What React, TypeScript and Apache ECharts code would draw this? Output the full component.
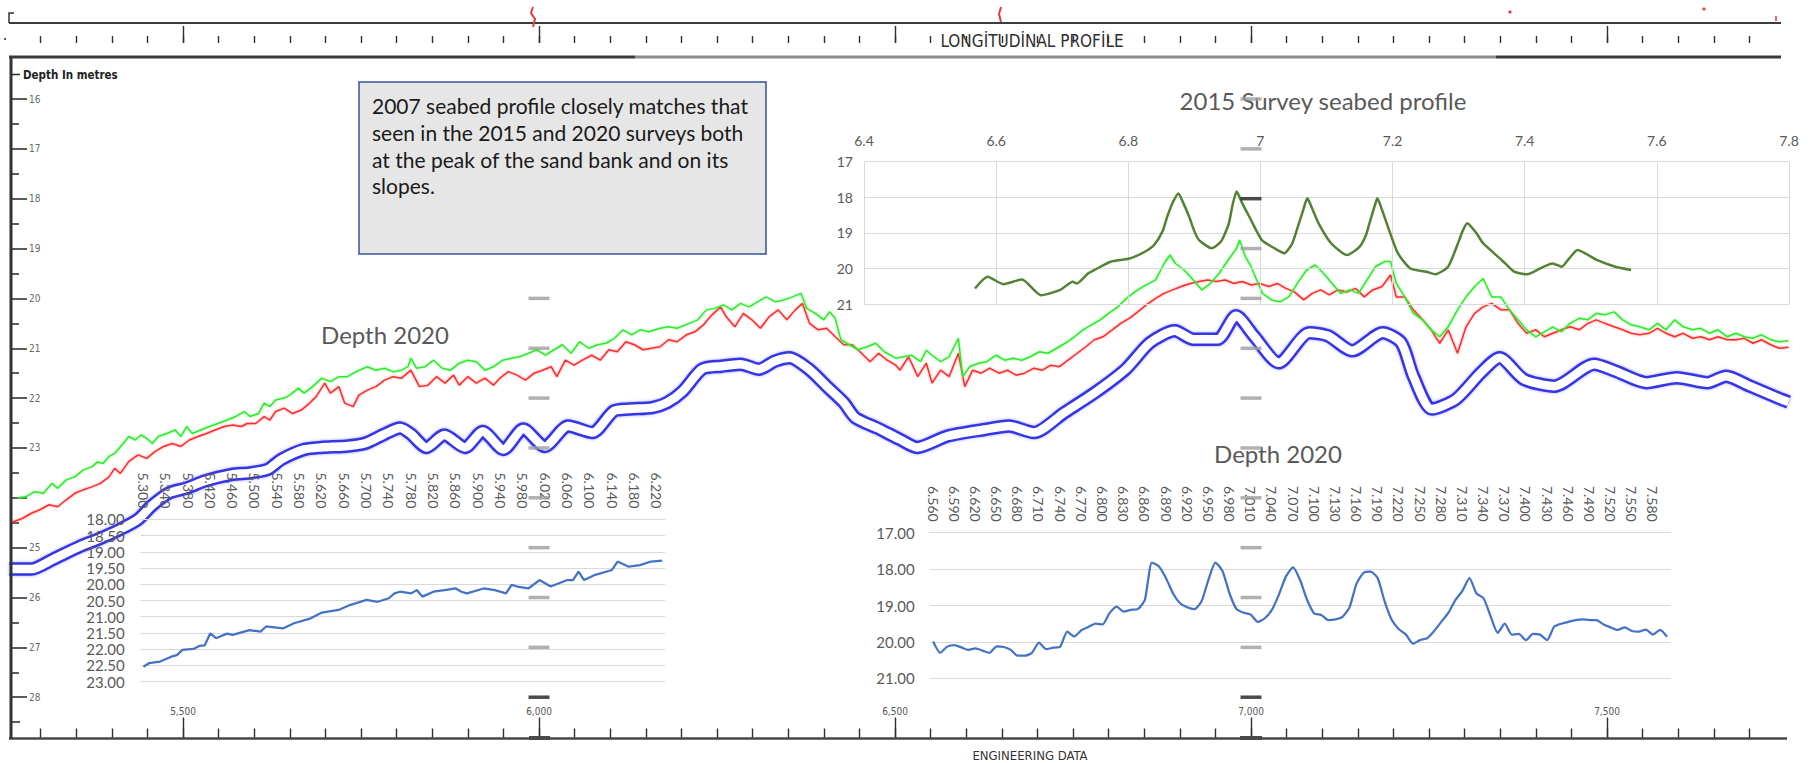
import { useEffect, useRef } from 'react';
import * as echarts from 'echarts';

// ---- Longitudinal profile (chainage in metres, depth in metres) ----
const profileGreen: [number, number][] = [
  [5268, 24.0], [5279, 23.98], [5291, 23.88], [5304, 23.91], [5316, 23.71], [5324, 23.81], [5336, 23.64], [5348, 23.58],
  [5360, 23.44], [5372, 23.38], [5380, 23.28], [5388, 23.31], [5396, 23.17], [5404, 23.11], [5416, 22.91], [5424, 22.77],
  [5433, 22.84], [5441, 22.74], [5449, 22.81], [5457, 22.91], [5465, 22.77], [5477, 22.71], [5489, 22.64], [5497, 22.77],
  [5505, 22.57], [5513, 22.71], [5525, 22.64], [5537, 22.57], [5549, 22.51], [5562, 22.44], [5574, 22.37], [5586, 22.27],
  [5594, 22.37], [5606, 22.31], [5614, 22.1], [5622, 22.17], [5630, 22.04], [5642, 22.0], [5650, 21.94], [5662, 21.8],
  [5670, 21.9], [5682, 21.77], [5695, 21.6], [5707, 21.67], [5719, 21.57], [5731, 21.57], [5743, 21.47], [5759, 21.37],
  [5771, 21.44], [5783, 21.4], [5795, 21.47], [5807, 21.44], [5816, 21.37], [5820, 21.2], [5828, 21.4], [5840, 21.37],
  [5852, 21.24], [5864, 21.4], [5876, 21.44], [5888, 21.3], [5900, 21.24], [5912, 21.27], [5924, 21.44], [5936, 21.37],
  [5949, 21.24], [5961, 21.2], [5973, 21.17], [5985, 21.1], [5997, 21.03], [6009, 21.14], [6021, 21.03], [6033, 20.93],
  [6045, 21.1], [6057, 20.87], [6070, 21.0], [6082, 20.93], [6094, 20.9], [6106, 20.8], [6118, 20.63], [6130, 20.73],
  [6142, 20.63], [6154, 20.67], [6170, 20.6], [6182, 20.57], [6194, 20.6], [6211, 20.5], [6223, 20.43], [6235, 20.23],
  [6247, 20.2], [6259, 20.13], [6271, 20.23], [6283, 20.1], [6295, 20.17], [6307, 20.07], [6319, 19.97], [6332, 20.07],
  [6344, 20.03], [6356, 19.97], [6368, 19.9], [6376, 20.2], [6388, 20.3], [6400, 20.43], [6408, 20.27], [6416, 20.4],
  [6424, 20.83], [6436, 20.93], [6448, 21.03], [6461, 20.97], [6473, 20.9], [6485, 21.07], [6501, 21.2], [6523, 21.14],
  [6536, 21.27], [6544, 21.04], [6552, 21.14], [6564, 21.27], [6576, 21.17], [6589, 20.8], [6595, 21.57], [6605, 21.37],
  [6617, 21.3], [6629, 21.27], [6642, 21.14], [6654, 21.24], [6666, 21.2], [6678, 21.24], [6690, 21.17], [6703, 21.07],
  [6715, 21.1], [6727, 21.0], [6739, 20.9], [6752, 20.77], [6764, 20.63], [6776, 20.53], [6788, 20.43], [6800, 20.3],
  [6813, 20.17], [6825, 20.0], [6837, 19.87], [6849, 19.76], [6866, 19.63], [6878, 19.3], [6886, 19.13], [6894, 19.3],
  [6906, 19.43], [6919, 19.63], [6931, 19.83], [6943, 19.7], [6955, 19.5], [6968, 19.23], [6980, 18.99], [6984, 18.83],
  [6992, 19.16], [7000, 19.36], [7008, 19.63], [7016, 19.9], [7029, 20.03], [7041, 20.07], [7053, 19.97], [7065, 19.7],
  [7078, 19.43], [7090, 19.33], [7102, 19.5], [7114, 19.7], [7126, 19.9], [7139, 19.83], [7151, 19.9], [7163, 19.63],
  [7175, 19.36], [7188, 19.26], [7196, 19.26], [7204, 19.7], [7216, 19.97], [7228, 20.3], [7241, 20.43], [7253, 20.63],
  [7265, 20.77], [7277, 20.57], [7290, 20.23], [7302, 19.97], [7314, 19.76], [7326, 19.6], [7338, 19.97], [7351, 19.97],
  [7363, 20.23], [7375, 20.43], [7387, 20.63], [7400, 20.77], [7412, 20.67], [7424, 20.57], [7436, 20.67], [7448, 20.5],
  [7461, 20.4], [7473, 20.43], [7485, 20.3], [7497, 20.33], [7510, 20.27], [7522, 20.43], [7534, 20.53], [7546, 20.57],
  [7559, 20.63], [7571, 20.5], [7583, 20.63], [7595, 20.43], [7607, 20.57], [7620, 20.63], [7632, 20.6], [7644, 20.7],
  [7656, 20.63], [7669, 20.77], [7681, 20.7], [7693, 20.77], [7705, 20.8], [7717, 20.73], [7730, 20.83], [7742, 20.87],
  [7755, 20.85],
];

const profileRed: [number, number][] = [
  [5258, 24.5], [5275, 24.41], [5287, 24.31], [5299, 24.24], [5312, 24.14], [5324, 24.18], [5336, 24.04], [5348, 23.91],
  [5360, 23.84], [5372, 23.78], [5384, 23.71], [5396, 23.58], [5404, 23.41], [5412, 23.51], [5424, 23.27], [5437, 23.14],
  [5449, 23.21], [5461, 23.07], [5473, 22.97], [5485, 22.91], [5497, 22.97], [5509, 22.84], [5521, 22.77], [5533, 22.71],
  [5545, 22.64], [5558, 22.57], [5570, 22.54], [5582, 22.57], [5590, 22.51], [5602, 22.51], [5614, 22.37], [5622, 22.44],
  [5630, 22.27], [5642, 22.2], [5654, 22.31], [5666, 22.24], [5678, 22.1], [5687, 21.97], [5699, 21.7], [5707, 21.9],
  [5719, 21.77], [5727, 22.1], [5739, 22.17], [5747, 21.94], [5759, 21.84], [5771, 21.77], [5783, 21.64], [5795, 21.57],
  [5807, 21.6], [5820, 21.44], [5832, 21.77], [5844, 21.74], [5856, 21.57], [5868, 21.7], [5880, 21.54], [5888, 21.74],
  [5900, 21.57], [5912, 21.7], [5924, 21.6], [5936, 21.74], [5945, 21.6], [5957, 21.47], [5969, 21.54], [5981, 21.64],
  [5993, 21.5], [6005, 21.44], [6017, 21.37], [6025, 21.57], [6037, 21.24], [6049, 21.34], [6061, 21.24], [6074, 21.14],
  [6086, 21.24], [6098, 21.03], [6110, 21.07], [6122, 20.87], [6134, 20.93], [6146, 21.03], [6158, 21.0], [6170, 20.97],
  [6182, 20.83], [6194, 20.87], [6207, 20.73], [6219, 20.67], [6231, 20.53], [6243, 20.33], [6255, 20.17], [6263, 20.37],
  [6275, 20.57], [6287, 20.3], [6299, 20.43], [6311, 20.6], [6323, 20.37], [6336, 20.23], [6348, 20.43], [6360, 20.23],
  [6370, 20.1], [6380, 20.5], [6392, 20.63], [6404, 20.6], [6416, 20.77], [6428, 20.93], [6440, 20.93], [6453, 21.1],
  [6465, 21.27], [6477, 21.1], [6489, 21.24], [6501, 21.34], [6507, 21.44], [6519, 21.17], [6532, 21.57], [6544, 21.3],
  [6552, 21.7], [6564, 21.44], [6576, 21.57], [6589, 21.1], [6598, 21.77], [6609, 21.44], [6621, 21.5], [6633, 21.4],
  [6646, 21.5], [6658, 21.44], [6670, 21.54], [6682, 21.5], [6695, 21.4], [6707, 21.44], [6719, 21.34], [6731, 21.37],
  [6743, 21.24], [6756, 21.1], [6768, 20.97], [6780, 20.83], [6792, 20.77], [6805, 20.63], [6817, 20.5], [6829, 20.4],
  [6841, 20.27], [6853, 20.13], [6866, 20.0], [6878, 19.9], [6890, 19.83], [6902, 19.76], [6915, 19.7], [6927, 19.66],
  [6939, 19.63], [6951, 19.66], [6964, 19.63], [6976, 19.7], [6988, 19.66], [7000, 19.73], [7012, 19.7], [7025, 19.76],
  [7037, 19.7], [7049, 19.8], [7061, 19.87], [7074, 20.03], [7086, 19.9], [7098, 19.83], [7110, 19.93], [7122, 19.83],
  [7135, 19.87], [7147, 19.8], [7159, 19.97], [7171, 19.83], [7184, 19.76], [7196, 19.53], [7204, 19.97], [7216, 19.97],
  [7228, 20.23], [7241, 20.43], [7253, 20.63], [7265, 20.9], [7277, 20.63], [7290, 21.1], [7302, 20.57], [7314, 20.3],
  [7326, 20.17], [7338, 20.1], [7351, 20.23], [7363, 20.23], [7375, 20.5], [7387, 20.7], [7400, 20.63], [7412, 20.77],
  [7424, 20.7], [7436, 20.63], [7448, 20.57], [7461, 20.63], [7473, 20.5], [7485, 20.43], [7497, 20.5], [7510, 20.57],
  [7522, 20.63], [7534, 20.7], [7546, 20.73], [7559, 20.7], [7571, 20.6], [7583, 20.7], [7595, 20.77], [7607, 20.7],
  [7620, 20.8], [7632, 20.77], [7644, 20.83], [7656, 20.77], [7669, 20.83], [7681, 20.83], [7693, 20.8], [7705, 20.9],
  [7717, 20.83], [7730, 20.93], [7742, 21.0], [7755, 20.98],
];

// centreline of the blue double-line profile
const profileBlue: [number, number][] = [
  [5256, 25.43], [5287, 25.43], [5318, 25.23], [5356, 24.97], [5381, 24.83], [5412, 24.63], [5437, 24.43], [5456, 24.16],
  [5481, 23.9], [5506, 23.8], [5531, 23.66], [5569, 23.53], [5594, 23.5], [5619, 23.43], [5638, 23.23], [5670, 23.03],
  [5694, 22.99], [5732, 22.96], [5757, 22.9], [5782, 22.73], [5805, 22.6], [5820, 22.72], [5842, 22.99], [5867, 22.74],
  [5896, 22.99], [5921, 22.67], [5950, 23.03], [5978, 22.62], [6008, 22.97], [6041, 22.56], [6075, 22.69], [6105, 22.26],
  [6127, 22.22], [6159, 22.19], [6180, 22.09], [6202, 21.86], [6229, 21.42], [6256, 21.36], [6283, 21.32], [6309, 21.42],
  [6331, 21.26], [6352, 21.19], [6379, 21.42], [6406, 21.79], [6428, 22.09], [6444, 22.39], [6475, 22.6], [6507, 22.83],
  [6531, 22.99], [6574, 22.76], [6626, 22.63], [6660, 22.56], [6695, 22.69], [6738, 22.29], [6781, 21.89], [6824, 21.42],
  [6858, 20.89], [6893, 20.65], [6919, 20.82], [6953, 20.82], [6979, 20.35], [7004, 20.75], [7039, 21.29], [7082, 20.69],
  [7108, 20.75], [7142, 21.05], [7185, 20.69], [7211, 20.89], [7228, 21.56], [7254, 22.22], [7288, 22.02], [7323, 21.49],
  [7349, 21.19], [7383, 21.62], [7426, 21.76], [7482, 21.32], [7512, 21.46], [7555, 21.69], [7598, 21.59], [7641, 21.69],
  [7667, 21.56], [7701, 21.76], [7744, 22.02], [7755, 22.08],
];

// centre marks printed on the profile at 6,000 and 7,000
const centreMarkChainages = [6000, 7000];
const centreMarkDepths = [16, 17, 18, 19, 20, 21, 22, 23, 24, 25, 26, 27, 28];
const darkCentreMarks = ['6000-28', '7000-18', '7000-28'];

// chainage ruler: minor ticks every 50 m, major ticks every 500 m
const rulerMinorRange = [5300, 7700];
const rulerMajorRange = [5500, 7500];

// ---- Depth 2020 (west section, km) ----
const westCategories = Array.from({ length: 94 }, (_, i) => ((5300 + i * 10) / 1000).toFixed(3));
const depth2020West: [string, number][] = [
  ['5.300', 22.54], ['5.310', 22.43], ['5.330', 22.38], ['5.350', 22.23], ['5.360', 22.18], ['5.370', 22.02],
  ['5.390', 21.99], ['5.400', 21.9], ['5.410', 21.88], ['5.420', 21.51], ['5.430', 21.66], ['5.450', 21.52],
  ['5.460', 21.56], ['5.490', 21.41], ['5.510', 21.46], ['5.520', 21.3], ['5.550', 21.36], ['5.570', 21.2],
  ['5.600', 21.05], ['5.620', 20.87], ['5.650', 20.79], ['5.670', 20.64], ['5.680', 20.59], ['5.700', 20.48],
  ['5.720', 20.54], ['5.740', 20.43], ['5.750', 20.28], ['5.760', 20.23], ['5.780', 20.28], ['5.790', 20.18],
  ['5.800', 20.38], ['5.820', 20.23], ['5.840', 20.18], ['5.860', 20.13], ['5.870', 20.23], ['5.880', 20.28],
  ['5.910', 20.13], ['5.930', 20.18], ['5.950', 20.28], ['5.960', 20.02], ['5.970', 20.07], ['5.990', 20.13],
  ['6.010', 19.87], ['6.030', 20.07], ['6.060', 19.87], ['6.070', 19.87], ['6.080', 19.61], ['6.090', 19.87],
  ['6.110', 19.71], ['6.140', 19.56], ['6.150', 19.3], ['6.170', 19.46], ['6.190', 19.41], ['6.210', 19.3],
  ['6.230', 19.27],
];
const westDepthRange = [18, 23];

// ---- Depth 2020 (east section, km) ----
const eastCategories = Array.from({ length: 105 }, (_, i) => ((6560 + i * 10) / 1000).toFixed(3));
const depth2020East: [string, number][] = [
  ['6.560', 19.99], ['6.570', 20.3], ['6.580', 20.13], ['6.590', 20.09], ['6.600', 20.15], ['6.610', 20.22],
  ['6.620', 20.18], ['6.630', 20.24], ['6.640', 20.3], ['6.650', 20.12], ['6.660', 20.14], ['6.670', 20.22],
  ['6.680', 20.38], ['6.690', 20.38], ['6.700', 20.3], ['6.710', 20.02], ['6.720', 20.2], ['6.730', 20.16],
  ['6.740', 20.13], ['6.750', 19.72], ['6.760', 19.85], ['6.770', 19.68], ['6.780', 19.59], ['6.790', 19.5],
  ['6.800', 19.52], ['6.810', 19.21], ['6.820', 19.03], ['6.830', 19.17], ['6.840', 19.12], ['6.850', 19.1],
  ['6.860', 18.85], ['6.870', 17.82], ['6.880', 17.93], ['6.890', 18.25], ['6.900', 18.67], ['6.910', 18.94],
  ['6.920', 19.05], ['6.930', 19.1], ['6.940', 18.9], ['6.950', 18.3], ['6.960', 17.82], ['6.970', 18.05],
  ['6.980', 18.67], ['6.990', 19.1], ['7.000', 19.2], ['7.010', 19.25], ['7.020', 19.45], ['7.030', 19.35],
  ['7.040', 19.12], ['7.050', 18.7], ['7.060', 18.2], ['7.070', 17.95], ['7.080', 18.3], ['7.090', 18.85],
  ['7.100', 19.22], ['7.110', 19.26], ['7.120', 19.4], ['7.130', 19.38], ['7.140', 19.31], ['7.150', 19.05],
  ['7.160', 18.4], ['7.170', 18.1], ['7.180', 18.07], ['7.190', 18.25], ['7.200', 18.9], ['7.210', 19.4],
  ['7.220', 19.65], ['7.230', 19.8], ['7.240', 20.05], ['7.250', 19.95], ['7.260', 19.9], ['7.270', 19.7],
  ['7.280', 19.45], ['7.290', 19.2], ['7.300', 18.85], ['7.310', 18.6], ['7.320', 18.25], ['7.330', 18.67],
  ['7.340', 18.8], ['7.350', 19.3], ['7.360', 19.75], ['7.370', 19.5], ['7.380', 19.8], ['7.390', 19.78],
  ['7.400', 19.95], ['7.410', 19.78], ['7.420', 19.8], ['7.430', 19.95], ['7.440', 19.58], ['7.450', 19.5],
  ['7.460', 19.45], ['7.470', 19.4], ['7.480', 19.38], ['7.490', 19.4], ['7.500', 19.4], ['7.510', 19.52],
  ['7.520', 19.6], ['7.530', 19.67], ['7.540', 19.6], ['7.550', 19.7], ['7.560', 19.72], ['7.570', 19.66],
  ['7.580', 19.8], ['7.590', 19.67], ['7.600', 19.86],
];

// ---- 2015 survey seabed profile (km, depth) ----
const survey2015: [number, number][] = [
  [6.568, 20.56], [6.587, 20.23], [6.611, 20.44], [6.639, 20.31], [6.668, 20.75], [6.697, 20.6], [6.716, 20.37],
  [6.722, 20.42], [6.739, 20.14], [6.749, 20.04], [6.773, 19.81], [6.802, 19.72], [6.825, 19.53], [6.839, 19.34],
  [6.852, 18.95], [6.859, 18.54], [6.868, 18.12], [6.876, 17.89], [6.883, 18.15], [6.892, 18.54], [6.9, 18.95],
  [6.907, 19.2], [6.926, 19.43], [6.94, 19.25], [6.952, 18.75], [6.958, 18.2], [6.964, 17.84], [6.972, 18.15],
  [6.983, 18.54], [7.002, 19.2], [7.021, 19.43], [7.036, 19.57], [7.048, 19.3], [7.055, 18.92], [7.064, 18.4],
  [7.071, 18.03], [7.078, 18.3], [7.088, 18.73], [7.107, 19.29], [7.131, 19.62], [7.15, 19.39], [7.16, 19.05],
  [7.165, 18.73], [7.172, 18.3], [7.177, 18.03], [7.184, 18.35], [7.193, 18.83], [7.208, 19.57], [7.227, 20.0],
  [7.251, 20.09], [7.265, 20.16], [7.284, 19.95], [7.298, 19.34], [7.306, 18.95], [7.313, 18.73], [7.327, 19.01],
  [7.337, 19.29], [7.365, 19.76], [7.384, 20.09], [7.404, 20.16], [7.423, 20.0], [7.442, 19.86], [7.456, 19.95],
  [7.468, 19.7], [7.48, 19.48], [7.509, 19.76], [7.537, 19.95], [7.561, 20.04],
];

const NARROW = "'Liberation Sans Narrow', 'DejaVu Sans Condensed', 'Liberation Sans', sans-serif";
const EXCEL = "Lato, 'Open Sans', sans-serif";
const GRID_GREY = '#d9d9d9';
const LABEL_GREY = '#595959';

// pixel scale of the printed profile: 0.712 px per metre of chainage, 6,500 at x = 895
const PX_PER_M = 0.712;
const chainageX = (ch: number) => 895 + (ch - 6500) * PX_PER_M;

function text(x: number, y: number, str: string, size: number, family: string, fill: string, opts: any = {}) {
  const align = opts.align ?? 'left';
  const vAlign = opts.vAlign ?? 'middle';
  return {
    type: 'text',
    x,
    y,
    z: opts.z ?? 60,
    style: {
      text: str,
      fontSize: size,
      fontFamily: family,
      fontWeight: opts.weight ?? 'normal',
      fill,
      align,
      textAlign: align,
      verticalAlign: vAlign,
      textVerticalAlign: vAlign,
      lineHeight: opts.lineHeight,
    },
  };
}

function seg(x1: number, y1: number, x2: number, y2: number, stroke: string, lineWidth: number, z = 55) {
  return { type: 'line', z, shape: { x1, y1, x2, y2 }, style: { stroke, lineWidth } };
}

function rulerGrid(range: number[], top: number, height: number) {
  return { left: chainageX(range[0]), width: (range[1] - range[0]) * PX_PER_M, top, height };
}

function rulerAxis(gridIndex: number, position: 'top' | 'bottom', range: number[], interval: number, length: number, labels = false) {
  return {
    gridIndex,
    type: 'value',
    min: range[0],
    max: range[1],
    interval,
    position,
    axisLine: { show: false },
    axisTick: { show: true, inside: position === 'bottom', length, lineStyle: { color: '#2e2e2e', width: 1.4 } },
    axisLabel: labels
      ? {
          show: true,
          inside: true,
          margin: 22,
          fontFamily: NARROW,
          fontSize: 10,
          color: '#555',
          formatter: (v: number) => v.toLocaleString('en-US'),
        }
      : { show: false },
    splitLine: { show: false },
  };
}

function hiddenY(gridIndex: number) {
  return { gridIndex, type: 'value', min: 0, max: 1, show: false };
}

function buildOption(): any {
  const markData: any[] = [];
  centreMarkChainages.forEach((ch) =>
    centreMarkDepths.forEach((d) => {
      const dark = darkCentreMarks.includes(`${ch}-${d}`);
      markData.push({ value: [ch, d], itemStyle: { color: dark ? '#1e1e1e' : '#9e9e9e' } });
    })
  );

  const insetLabel = { color: LABEL_GREY, fontFamily: EXCEL };

  return {
    animation: false,
    backgroundColor: '#ffffff',
    grid: [
      { left: 11, top: 99, width: 1778, height: 598.2 },
      rulerGrid(rulerMinorRange, 23, 20),
      rulerGrid(rulerMajorRange, 23, 20),
      rulerGrid(rulerMinorRange, 700, 38.5),
      rulerGrid(rulerMajorRange, 700, 38.5),
      { left: 140.6, top: 519.3, width: 524.4, height: 162.4 },
      { left: 929.6, top: 532.7, width: 741, height: 145.6 },
      { left: 864, top: 161.7, width: 925, height: 142.4 },
    ],
    xAxis: [
      { gridIndex: 0, type: 'value', min: 5258.4, max: 7755.6, show: false },
      rulerAxis(1, 'top', rulerMinorRange, 50, 7),
      rulerAxis(2, 'top', rulerMajorRange, 500, 17),
      rulerAxis(3, 'bottom', rulerMinorRange, 50, 10),
      rulerAxis(4, 'bottom', rulerMajorRange, 500, 21, true),
      {
        gridIndex: 5,
        type: 'category',
        data: westCategories,
        position: 'top',
        boundaryGap: true,
        z: 5,
        axisLine: { show: true, lineStyle: { color: GRID_GREY } },
        axisTick: { show: false },
        axisLabel: { ...insetLabel, interval: 3, rotate: 90, margin: 11, fontSize: 14 },
      },
      {
        gridIndex: 6,
        type: 'category',
        data: eastCategories,
        position: 'top',
        boundaryGap: true,
        z: 5,
        axisLine: { show: true, lineStyle: { color: GRID_GREY } },
        axisTick: { show: false },
        axisLabel: { ...insetLabel, interval: 2, rotate: 90, margin: 11, fontSize: 14 },
      },
      {
        gridIndex: 7,
        type: 'value',
        min: 6.4,
        max: 7.8,
        interval: 0.2,
        position: 'top',
        z: 5,
        axisLine: { show: false },
        axisTick: { show: false },
        axisLabel: { ...insetLabel, margin: 14, fontSize: 14 },
        splitLine: { show: true, lineStyle: { color: GRID_GREY } },
      },
    ],
    yAxis: [
      {
        gridIndex: 0,
        type: 'value',
        inverse: true,
        min: 16,
        max: 28,
        interval: 1,
        axisLine: { show: false },
        axisTick: { show: true, inside: true, length: 16, lineStyle: { color: '#333', width: 1.6 } },
        minorTick: { show: true, splitNumber: 2, length: 8, lineStyle: { color: '#333', width: 1.6 } },
        axisLabel: {
          inside: true,
          margin: 18,
          fontSize: 10,
          fontFamily: NARROW,
          color: '#6a6a6a',
          formatter: (v: number) => (v === 24 ? '' : String(v)),
        },
        splitLine: { show: false },
      },
      hiddenY(1),
      hiddenY(2),
      hiddenY(3),
      hiddenY(4),
      {
        gridIndex: 5,
        type: 'value',
        inverse: true,
        min: westDepthRange[0],
        max: westDepthRange[1],
        interval: 0.5,
        z: 5,
        axisLine: { show: false },
        axisTick: { show: false },
        axisLabel: { ...insetLabel, fontSize: 15, margin: 16, formatter: (v: number) => v.toFixed(2) },
        splitLine: { show: true, lineStyle: { color: GRID_GREY } },
      },
      {
        gridIndex: 6,
        type: 'value',
        inverse: true,
        min: 17,
        max: 21,
        interval: 1,
        z: 5,
        axisLine: { show: false },
        axisTick: { show: false },
        axisLabel: { ...insetLabel, fontSize: 15, margin: 15, formatter: (v: number) => v.toFixed(2) },
        splitLine: { show: true, lineStyle: { color: GRID_GREY } },
      },
      {
        gridIndex: 7,
        type: 'value',
        inverse: true,
        min: 17,
        max: 21,
        interval: 1,
        z: 5,
        axisLine: { show: false },
        axisTick: { show: false },
        axisLabel: { ...insetLabel, fontSize: 14, margin: 11 },
        splitLine: { show: true, lineStyle: { color: GRID_GREY } },
      },
    ],
    series: [
      {
        type: 'line',
        xAxisIndex: 0,
        yAxisIndex: 0,
        data: profileBlue,
        showSymbol: false,
        smooth: 0.25,
        z: 3,
        lineStyle: { color: '#3636e6', width: 13.5, shadowBlur: 3, shadowColor: 'rgba(90,90,255,0.55)' },
      },
      {
        type: 'line',
        xAxisIndex: 0,
        yAxisIndex: 0,
        data: profileBlue,
        showSymbol: false,
        smooth: 0.25,
        z: 3,
        lineStyle: { color: '#ffffff', width: 8.5 },
      },
      {
        type: 'line',
        xAxisIndex: 0,
        yAxisIndex: 0,
        data: profileRed,
        showSymbol: false,
        z: 4,
        lineStyle: { color: '#ff2a2a', width: 1.5, shadowBlur: 2, shadowColor: 'rgba(255,80,80,0.6)' },
      },
      {
        type: 'line',
        xAxisIndex: 0,
        yAxisIndex: 0,
        data: profileGreen,
        showSymbol: false,
        z: 4,
        lineStyle: { color: '#2bea2b', width: 1.5, shadowBlur: 2, shadowColor: 'rgba(80,255,80,0.6)' },
      },
      {
        type: 'scatter',
        xAxisIndex: 0,
        yAxisIndex: 0,
        data: markData,
        symbol: 'rect',
        symbolSize: [21, 3.5],
        clip: false,
        z: 8,
        silent: true,
      },
      {
        type: 'line',
        xAxisIndex: 5,
        yAxisIndex: 5,
        data: depth2020West,
        showSymbol: false,
        z: 6,
        lineStyle: { color: '#4472c4', width: 2.25 },
      },
      {
        type: 'line',
        xAxisIndex: 6,
        yAxisIndex: 6,
        data: depth2020East,
        showSymbol: false,
        smooth: 0.2,
        z: 6,
        lineStyle: { color: '#4472c4', width: 2.25 },
      },
      {
        type: 'line',
        xAxisIndex: 7,
        yAxisIndex: 7,
        data: survey2015,
        showSymbol: false,
        smooth: 0.2,
        z: 6,
        lineStyle: { color: '#548235', width: 2.5 },
      },
    ],
    graphic: {
      elements: [
        // rulers and frame of the printed profile
        seg(9, 23, 1781, 23, '#3c3c3c', 2),
        seg(9, 738.5, 1787, 738.5, '#474747', 2.5),
        seg(11, 57, 11, 739, '#333333', 3),
        seg(9, 57, 635, 57, '#3a3a3a', 3),
        seg(635, 57, 1496, 57, '#8c8c8c', 3),
        seg(1496, 57, 1781, 57, '#3a3a3a', 3),
        { type: 'polyline', z: 55, shape: { points: [[14, 13], [9, 13], [9, 23]] }, style: { stroke: '#333', lineWidth: 1.5, fill: null } },
        { type: 'circle', z: 55, shape: { cx: 5, cy: 39, r: 1 }, style: { fill: '#333' } },
        seg(11, 74.5, 20, 74.5, '#333', 1.6),
        seg(11, 722, 20, 722, '#333', 1.6),
        { type: 'rect', z: 55, shape: { x: 529, y: 736, width: 21, height: 4 }, style: { fill: '#4a4a4a' } },
        { type: 'rect', z: 55, shape: { x: 1240, y: 736, width: 22, height: 4 }, style: { fill: '#4a4a4a' } },
        // red pen marks along the top ruler
        { type: 'polyline', z: 56, shape: { points: [[533, 7], [531, 13], [535, 19], [533, 27]] }, style: { stroke: '#e23b3b', lineWidth: 2, fill: null } },
        { type: 'polyline', z: 56, shape: { points: [[1001, 7], [999, 14], [1001, 22]] }, style: { stroke: '#e23b3b', lineWidth: 2, fill: null } },
        { type: 'circle', z: 56, shape: { cx: 1510, cy: 12, r: 1.6 }, style: { fill: '#e23b3b' } },
        { type: 'circle', z: 56, shape: { cx: 1704, cy: 9, r: 1.6 }, style: { fill: '#e23b3b' } },
        seg(1776, 16, 1776, 21, '#e23b3b', 1.5, 56),
        text(1032, 41, 'LONGİTUDİNAL PROFİLE', 17, NARROW, '#2e2e2e', { align: 'center' }),
        text(23, 75, 'Depth In metres', 11.5, NARROW, '#222', { weight: 'bold' }),
        text(1030, 755, 'ENGINEERING DATA', 13, NARROW, '#333', { align: 'center' }),
        // chart titles
        text(385, 334, 'Depth 2020', 24, EXCEL, LABEL_GREY, { align: 'center', z: 5 }),
        text(1278, 453, 'Depth 2020', 24, EXCEL, LABEL_GREY, { align: 'center', z: 5 }),
        text(1323, 100, '2015 Survey seabed profile', 24, EXCEL, LABEL_GREY, { align: 'center', z: 5 }),
        // note box
        {
          type: 'rect',
          z: 100,
          shape: { x: 359, y: 82, width: 407, height: 172 },
          style: { fill: '#e7e6e6', stroke: '#2f5597', lineWidth: 1.5 },
        },
        text(
          372,
          92.5,
          '2007 seabed profile closely matches that\nseen in the 2015 and 2020 surveys both\nat the peak of the sand bank and on its\nslopes.',
          21,
          EXCEL,
          '#1a1a1a',
          { vAlign: 'top', lineHeight: 26.7, z: 101 }
        ),
      ],
    },
  };
}

export default function App() {
  const ref = useRef<HTMLDivElement>(null);
  useEffect(() => {
    const chart = echarts.init(ref.current!, undefined, { renderer: 'svg' });
    chart.setOption(buildOption());
    return () => chart.dispose();
  }, []);
  return (
    <div
      ref={ref}
      style={{ position: 'fixed', left: 0, top: 0, width: 1810, height: 763, background: '#ffffff' }}
    />
  );
}
